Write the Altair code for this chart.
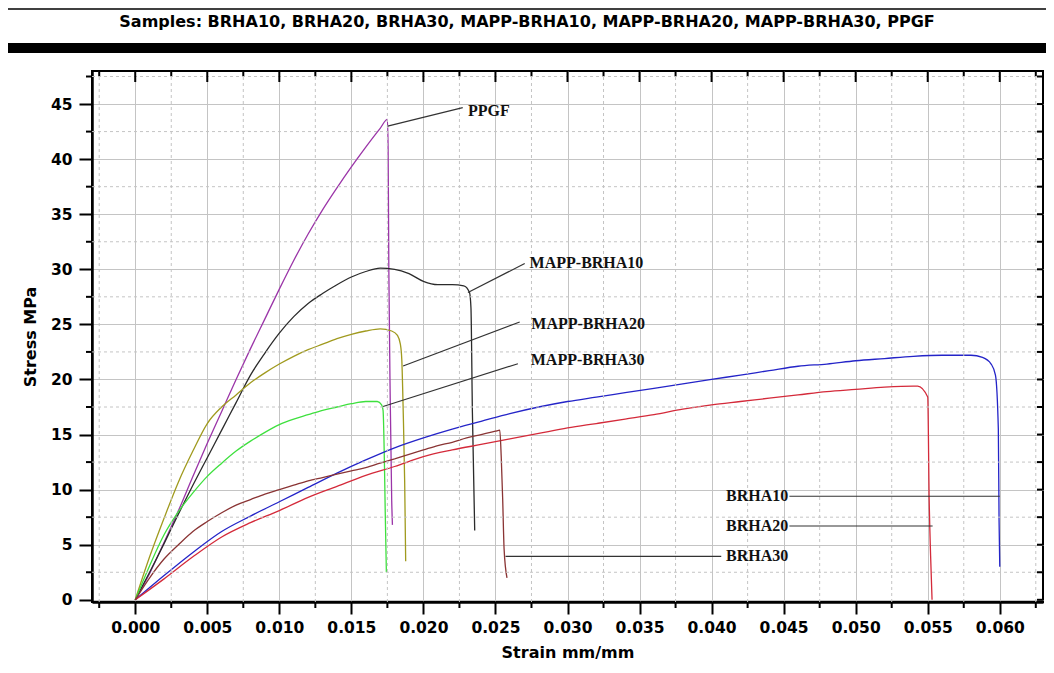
import altair as alt
import pandas as pd

TITLE = "Samples: BRHA10, BRHA20, BRHA30, MAPP-BRHA10, MAPP-BRHA20, MAPP-BRHA30, PPGF"
X_TITLE = "Strain mm/mm"
Y_TITLE = "Stress MPa"

series_names = ["PPGF", "MAPP-BRHA10", "MAPP-BRHA20", "MAPP-BRHA30", "BRHA10", "BRHA20", "BRHA30"]
series_colors = ["#9b35a8", "#2b2b2b", "#a09a1e", "#3ee03e", "#2424c8", "#d42a3a", "#8a3434"]

ppgf_strain = [0, 0.001, 0.002, 0.003, 0.004, 0.005, 0.006, 0.007, 0.008, 0.009, 0.010, 0.011,
               0.012, 0.013, 0.014, 0.015, 0.016, 0.017, 0.0175, 0.01755, 0.0176, 0.0177, 0.0178, 0.01785]
ppgf_stress = [0, 2.4, 5.2, 8.1, 11.2, 14.2, 17.1, 20.0, 22.8, 25.5, 28.2, 30.8,
               33.2, 35.4, 37.4, 39.3, 41.1, 42.8, 43.6, 41.0, 30.0, 18.0, 9.0, 6.8]

mb10_strain = [0, 0.001, 0.002, 0.003, 0.004, 0.005, 0.006, 0.007, 0.008, 0.009, 0.010, 0.011,
               0.012, 0.013, 0.014, 0.015, 0.016, 0.017, 0.018, 0.019, 0.020, 0.021, 0.022, 0.0228,
               0.0232, 0.0233, 0.0234, 0.02356]
mb10_stress = [0, 2.5, 5.1, 7.8, 10.4, 12.9, 15.4, 17.9, 20.4, 22.4, 24.2, 25.7,
               26.9, 27.8, 28.6, 29.3, 29.8, 30.1, 30.0, 29.6, 28.9, 28.6, 28.6, 28.5,
               27.9, 26.5, 17.0, 6.3]

mb20_strain = [0, 0.001, 0.002, 0.003, 0.004, 0.005, 0.006, 0.007, 0.008, 0.009, 0.010, 0.011,
               0.012, 0.013, 0.014, 0.015, 0.016, 0.017, 0.0178, 0.0182, 0.0184, 0.0185, 0.0186,
               0.0187, 0.01877]
mb20_stress = [0, 3.9, 7.4, 10.7, 13.5, 16.0, 17.5, 18.6, 19.7, 20.6, 21.4, 22.1,
               22.7, 23.2, 23.7, 24.1, 24.4, 24.6, 24.4, 24.0, 23.2, 21.8, 17.0,
               10.7, 3.5]

mb30_strain = [0, 0.001, 0.002, 0.003, 0.004, 0.005, 0.006, 0.007, 0.008, 0.009, 0.010, 0.011,
               0.012, 0.013, 0.014, 0.015, 0.016, 0.0168, 0.0171, 0.0172, 0.0173, 0.01735, 0.01743]
mb30_stress = [0, 3.1, 5.9, 8.0, 9.7, 11.2, 12.4, 13.5, 14.4, 15.2, 15.9, 16.4,
               16.8, 17.2, 17.5, 17.8, 18.0, 18.0, 17.7, 17.2, 12.0, 8.0, 2.5]

b10_strain = [0, 0.002, 0.004, 0.006, 0.008, 0.010, 0.012, 0.014, 0.016, 0.018, 0.020, 0.022,
              0.024, 0.026, 0.028, 0.030, 0.032, 0.034, 0.036, 0.038, 0.040, 0.042, 0.044, 0.046,
              0.048, 0.050, 0.052, 0.054, 0.056, 0.058, 0.0588, 0.0594, 0.0597, 0.0599, 0.05995, 0.0600]
b10_stress = [0, 2.2, 4.3, 6.2, 7.6, 8.9, 10.2, 11.5, 12.7, 13.8, 14.7, 15.5,
              16.2, 16.9, 17.5, 18.0, 18.4, 18.8, 19.2, 19.6, 20.0, 20.4, 20.8, 21.2,
              21.4, 21.7, 21.9, 22.1, 22.2, 22.2, 22.0, 21.4, 20.4, 15.5, 7.3, 3.0]

b20_strain = [0, 0.002, 0.004, 0.006, 0.008, 0.010, 0.012, 0.014, 0.016, 0.018, 0.020, 0.022,
              0.024, 0.026, 0.028, 0.030, 0.032, 0.034, 0.036, 0.038, 0.040, 0.042, 0.044, 0.046,
              0.048, 0.050, 0.052, 0.054, 0.0543, 0.0550, 0.0551, 0.0552, 0.0553]
b20_stress = [0, 1.9, 3.9, 5.7, 7.0, 8.1, 9.3, 10.3, 11.3, 12.1, 13.0, 13.6,
              14.1, 14.6, 15.1, 15.6, 16.0, 16.4, 16.8, 17.3, 17.7, 18.0, 18.3, 18.6,
              18.9, 19.1, 19.3, 19.4, 19.4, 18.4, 9.1, 4.0, 0.0]

b30_strain = [0, 0.001, 0.002, 0.003, 0.004, 0.005, 0.006, 0.007, 0.008, 0.009, 0.010, 0.011,
              0.012, 0.013, 0.014, 0.015, 0.016, 0.017, 0.018, 0.019, 0.020, 0.021, 0.022, 0.023,
              0.024, 0.025, 0.0253, 0.0254, 0.0255, 0.0256, 0.0258]
b30_stress = [0, 2.0, 3.7, 5.0, 6.2, 7.1, 7.9, 8.6, 9.1, 9.6, 10.0, 10.4,
              10.8, 11.1, 11.4, 11.7, 12.0, 12.4, 12.8, 13.2, 13.6, 14.0, 14.3, 14.7,
              15.0, 15.3, 15.4, 13.0, 9.2, 4.6, 2.0]

# annotations (data coordinates)
ann_labels = ["PPGF", "MAPP-BRHA10", "MAPP-BRHA20", "MAPP-BRHA30", "BRHA10", "BRHA20", "BRHA30"]
ann_text_x = [0.0231, 0.02737, 0.02749, 0.02745, 0.0410, 0.0410, 0.0410]
ann_text_y = [44.4, 30.6, 25.06, 21.73, 9.4, 6.7, 3.95]
lead_x1 = [0.01752, 0.02309, 0.01859, 0.0172, 0.0454, 0.0454, 0.0257]
lead_y1 = [43.0, 27.9, 21.22, 17.55, 9.4, 6.7, 3.95]
lead_x2 = [0.02273, 0.02703, 0.02668, 0.02656, 0.0600, 0.05534, 0.04067]
lead_y2 = [44.67, 30.52, 25.22, 21.43, 9.4, 6.7, 3.95]

x_major = [0.000, 0.005, 0.010, 0.015, 0.020, 0.025, 0.030, 0.035, 0.040, 0.045, 0.050, 0.055, 0.060]
x_minor = [-0.0025, 0.0025, 0.0075, 0.0125, 0.0175, 0.0225, 0.0275, 0.0325, 0.0375, 0.0425,
           0.0475, 0.0525, 0.0575, 0.0625]
y_major = [0, 5, 10, 15, 20, 25, 30, 35, 40, 45]
y_minor = [2.5, 7.5, 12.5, 17.5, 22.5, 27.5, 32.5, 37.5, 42.5, 47.5]

W, H = 951, 531

rows = []
for name, xs, ys in [
    ("PPGF", ppgf_strain, ppgf_stress),
    ("MAPP-BRHA10", mb10_strain, mb10_stress),
    ("MAPP-BRHA20", mb20_strain, mb20_stress),
    ("MAPP-BRHA30", mb30_strain, mb30_stress),
    ("BRHA10", b10_strain, b10_stress),
    ("BRHA20", b20_strain, b20_stress),
    ("BRHA30", b30_strain, b30_stress),
]:
    for i, (a, b) in enumerate(zip(xs, ys)):
        rows.append({"series": name, "strain": a, "stress": b, "idx": i})
curves = pd.DataFrame(rows)

xscale = alt.Scale(domain=[-0.003, 0.063], nice=False, zero=False)
yscale = alt.Scale(domain=[-0.2, 48], nice=False, zero=False)

x_axis = alt.Axis(values=x_major, title=X_TITLE, format=".3f", tickSize=12, grid=True,
                  labelOverlap=False, labelFlush=False, labelPadding=6, titlePadding=9)
y_axis = alt.Axis(values=y_major, title=Y_TITLE, format="d", tickSize=13, grid=True,
                  labelOverlap=False, labelFlush=False, labelPadding=7, titlePadding=12)


def X(field="strain"):
    return alt.X(f"{field}:Q", scale=xscale, axis=x_axis, title=X_TITLE)


def Y(field="stress"):
    return alt.Y(f"{field}:Q", scale=yscale, axis=y_axis, title=Y_TITLE)


lines = alt.Chart(curves).mark_line(strokeWidth=1.3, interpolate="monotone").encode(
    x=X(), y=Y(),
    color=alt.Color("series:N", scale=alt.Scale(domain=series_names, range=series_colors), legend=None),
    order="idx:Q",
    detail="series:N",
)

xmin_df = pd.DataFrame({"strain": x_minor})
ymin_df = pd.DataFrame({"stress": y_minor})
xmaj_df = pd.DataFrame({"strain": x_major})
ymaj_df = pd.DataFrame({"stress": y_major})

# minor grid (dashed)
grid_x_minor = alt.Chart(xmin_df).mark_rule(color="#c4c4c4", strokeWidth=1, strokeDash=[3, 3]).encode(
    x=X(), y=alt.value(0), y2=alt.value(H))
grid_y_minor = alt.Chart(ymin_df).mark_rule(color="#c4c4c4", strokeWidth=1, strokeDash=[3, 3]).encode(
    y=Y(), x=alt.value(0), x2=alt.value(W))

# minor ticks outside on bottom and left
bot_minor = alt.Chart(xmin_df).mark_rule(color="black", strokeWidth=2).encode(
    x=X(), y=alt.value(H), y2=alt.value(H + 6))
left_minor = alt.Chart(ymin_df).mark_rule(color="black", strokeWidth=2).encode(
    y=Y(), x=alt.value(0), x2=alt.value(-6))

# mirror ticks on top and right frame (pointing inward)
top_major = alt.Chart(xmaj_df).mark_rule(color="black", strokeWidth=2).encode(
    x=X(), y=alt.value(0), y2=alt.value(11))
top_minor = alt.Chart(xmin_df).mark_rule(color="black", strokeWidth=2).encode(
    x=X(), y=alt.value(0), y2=alt.value(5))
right_major = alt.Chart(ymaj_df).mark_rule(color="black", strokeWidth=2).encode(
    y=Y(), x=alt.value(W), x2=alt.value(W - 6))
right_minor = alt.Chart(ymin_df).mark_rule(color="black", strokeWidth=2).encode(
    y=Y(), x=alt.value(W), x2=alt.value(W - 6))

lead_df = pd.DataFrame({"strain": lead_x1, "stress": lead_y1, "strain2": lead_x2, "stress2": lead_y2})
leaders = alt.Chart(lead_df).mark_rule(color="#333333", strokeWidth=1.2).encode(
    x=X(), y=Y(), x2="strain2:Q", y2="stress2:Q",
)

ann_df = pd.DataFrame({"label": ann_labels, "strain": ann_text_x, "stress": ann_text_y})
ann = alt.Chart(ann_df).mark_text(
    align="left", baseline="middle", font="Liberation Serif", fontSize=16, fontWeight="bold", color="#111111"
).encode(x=X(), y=Y(), text="label:N")

one = pd.DataFrame({"t": [TITLE]})
title = alt.Chart(one).mark_text(
    font="DejaVu Sans", fontSize=16, fontWeight="bold", color="black", align="center", baseline="middle"
).encode(text="t:N", x=alt.value(435), y=alt.value(-49))
bar = alt.Chart(one).mark_rule(color="black", strokeWidth=10).encode(
    x=alt.value(-84), x2=alt.value(970), y=alt.value(-23))
thin = alt.Chart(one).mark_rule(color="black", strokeWidth=1.5).encode(
    x=alt.value(-84), x2=alt.value(970), y=alt.value(-62))

chart = alt.layer(
    lines, grid_x_minor, grid_y_minor, bot_minor, left_minor,
    top_major, top_minor, right_major, right_minor,
    leaders, ann, title, bar, thin
).properties(
    width=W, height=H,
    autosize=alt.AutoSizeParams(type="none"),
    padding={"left": 84, "top": 63, "right": 3, "bottom": 63},
    background="white",
).configure_view(
    stroke="black", strokeWidth=2
).configure_axis(
    domainColor="black", domainWidth=2.5,
    tickColor="black", tickWidth=2,
    gridColor="#c4c4c4", gridWidth=1,
    labelFont="DejaVu Sans", labelFontWeight="bold", labelFontSize=15.5, labelColor="black",
    titleFont="DejaVu Sans", titleFontWeight="bold", titleFontSize=16, titleColor="black",
)

chart.save("out.html", embed_options={"renderer": "svg", "actions": False})
